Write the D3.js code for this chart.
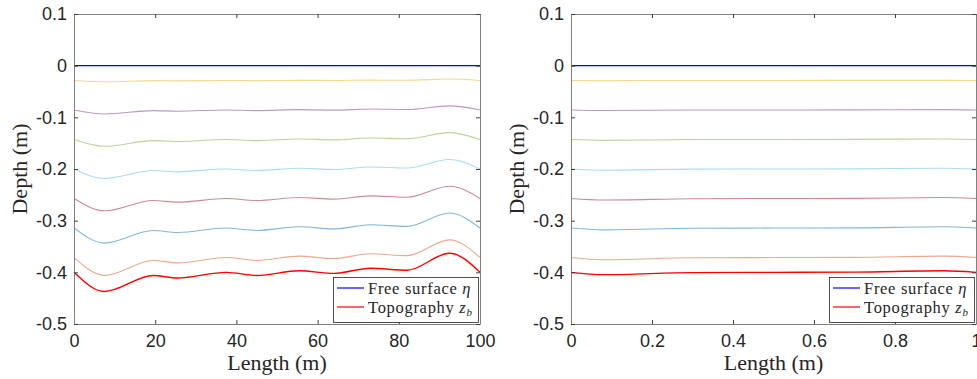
<!DOCTYPE html>
<html lang="en">
	<head>
		<meta charset="utf-8">
		<title>Layer depths</title>
		<script type="text/javascript" src="https://d3js.org/d3.v7.min.js"></script>
		<style type="text/css">
			body { margin: 0; background: #fff; }
			.tick text { font-family: "Liberation Sans", Arial, sans-serif; font-size: 18px; fill: #262626; }
			.lbl { font-family: "Liberation Serif", "Times New Roman", serif; font-size: 22px; fill: #262626; }
			.leg { font-family: "Liberation Serif", "Times New Roman", serif; font-size: 16.5px; letter-spacing: 0.7px; fill: #262626; }
		</style>
	</head>
	<body>
		<script type="text/javascript">

			// ---- data ----
			// left panel: 0..100 m
			var lengthL = [0, 7.5, 19.5, 25.5, 37.5, 45, 55.5, 64, 73, 82, 92.5, 100];
			var surfaceL = [0, 0, 0, 0, 0, 0, 0, 0, 0, 0, 0, 0];
			var topoL = [-0.400, -0.437, -0.406, -0.411, -0.400, -0.406, -0.397, -0.402, -0.392, -0.396, -0.363, -0.400];
			var layersL = [
				[-0.0286, -0.0312, -0.0290, -0.0294, -0.0286, -0.0290, -0.0284, -0.0287, -0.0280, -0.0283, -0.0259, -0.0286],
				[-0.0857, -0.0936, -0.0870, -0.0881, -0.0857, -0.0870, -0.0851, -0.0861, -0.0840, -0.0849, -0.0778, -0.0857],
				[-0.1429, -0.1561, -0.1450, -0.1468, -0.1429, -0.1450, -0.1418, -0.1436, -0.1400, -0.1414, -0.1296, -0.1429],
				[-0.2000, -0.2185, -0.2030, -0.2055, -0.2000, -0.2030, -0.1985, -0.2010, -0.1960, -0.1980, -0.1815, -0.2000],
				[-0.2571, -0.2809, -0.2610, -0.2642, -0.2571, -0.2610, -0.2552, -0.2584, -0.2520, -0.2546, -0.2334, -0.2571],
				[-0.3143, -0.3434, -0.3190, -0.3229, -0.3143, -0.3190, -0.3119, -0.3159, -0.3080, -0.3111, -0.2852, -0.3143],
				[-0.3714, -0.4058, -0.3770, -0.3817, -0.3714, -0.3770, -0.3687, -0.3733, -0.3640, -0.3677, -0.3371, -0.3714]
			];

			// right panel: 0..1 m
			var lengthR = [0, 0.08, 0.3, 0.5, 0.7, 0.92, 1];
			var surfaceR = [0, 0, 0, 0, 0, 0, 0];
			var topoR = [-0.400, -0.4045, -0.4005, -0.400, -0.3995, -0.397, -0.400];
			var layersR = [
				[-0.0286, -0.0289, -0.0286, -0.0286, -0.0285, -0.0284, -0.0286],
				[-0.0857, -0.0867, -0.0858, -0.0857, -0.0856, -0.0851, -0.0857],
				[-0.1429, -0.1445, -0.1430, -0.1429, -0.1427, -0.1418, -0.1429],
				[-0.2000, -0.2023, -0.2003, -0.2000, -0.1998, -0.1985, -0.2000],
				[-0.2571, -0.2600, -0.2575, -0.2571, -0.2568, -0.2552, -0.2571],
				[-0.3143, -0.3178, -0.3147, -0.3143, -0.3139, -0.3119, -0.3143],
				[-0.3714, -0.3756, -0.3719, -0.3714, -0.3710, -0.3687, -0.3714]
			];

			var ticksL = [0, 20, 40, 60, 80, 100];
			var ticksR = [0, 0.2, 0.4, 0.6, 0.8, 1];
			var ticksY = [-0.5, -0.4, -0.3, -0.2, -0.1, 0, 0.1];
			var legendNames = ["Free surface ", "Topography "];

			var layerColors = ["#EDB120", "#7E2F8E", "#77AC30", "#4DBEEE", "#A2142F", "#0072BD", "#D95319"];

			//Width and height
			var w = 977;
			var h = 379;

			var svg = d3.select("body")
						.append("svg")
						.attr("width", w)
						.attr("height", h);

			function fmt(d) {
				return d === 0 ? "0" : String(+d.toFixed(1));
			}

			function drawPanel(x0, x1, xs, surface, topo, layers, xticks, xmax) {
				var y0 = 14, y1 = 324;
				var x = d3.scaleLinear().domain([0, xmax]).range([x0, x1]);
				var y = d3.scaleLinear().domain([-0.5, 0.1]).range([y1, y0]);
				var g = svg.append("g");

				var line = function(vals) {
					return d3.line()
						.x(function(d, i) { return x(xs[i]); })
						.y(function(d) { return y(d); })
						.curve(d3.curveMonotoneX)(vals);
				};

				// layers
				layers.forEach(function(vals, k) {
					g.append("path")
						.attr("d", line(vals))
						.attr("fill", "none")
						.attr("stroke", layerColors[k])
						.attr("stroke-opacity", 0.5)
						.attr("stroke-width", 1.1);
				});
				g.append("path")
					.attr("d", line(surface))
					.attr("fill", "none")
					.attr("stroke", "#0000ff")
					.attr("stroke-width", 1.3);
				g.append("path")
					.attr("d", line(topo))
					.attr("fill", "none")
					.attr("stroke", "#ff0000")
					.attr("stroke-width", 1.4);

				// axes, ticks pointing inward on all four sides
				var ax = function(a) {
					a.selectAll(".domain").attr("stroke", "#808080");
					a.selectAll(".tick line").attr("stroke", "#404040");
				};
				g.append("g").attr("transform", "translate(0," + y1 + ")")
					.call(d3.axisBottom(x).tickValues(xticks).tickSize(-4).tickSizeOuter(0).tickPadding(10).tickFormat(fmt))
					.call(ax);
				g.append("g").attr("transform", "translate(0," + y0 + ")")
					.call(d3.axisTop(x).tickValues(xticks).tickSize(-4).tickSizeOuter(0).tickFormat(""))
					.call(ax);
				g.append("g").attr("transform", "translate(" + x0 + ",0)")
					.call(d3.axisLeft(y).tickValues(ticksY).tickSize(-4).tickSizeOuter(0).tickPadding(7).tickFormat(fmt))
					.call(ax);
				g.append("g").attr("transform", "translate(" + x1 + ",0)")
					.call(d3.axisRight(y).tickValues(ticksY).tickSize(-4).tickSizeOuter(0).tickFormat(""))
					.call(ax);
				g.selectAll(".tick text").attr("font-family", null).attr("font-size", null).attr("fill", null);

				// axis labels
				g.append("text")
					.attr("class", "lbl")
					.attr("x", (x0 + x1) / 2)
					.attr("y", 370)
					.attr("text-anchor", "middle")
					.text("Length (m)");
				g.append("text")
					.attr("class", "lbl")
					.attr("transform", "translate(" + (x0 - 47) + "," + ((y0 + y1) / 2) + ") rotate(-90)")
					.attr("text-anchor", "middle")
					.text("Depth (m)");

				// legend, bottom right inside the axes
				var lw = 145, lh = 45;
				var lx = x1 - 2 - lw, ly = y1 - 2 - lh;
				var lg = g.append("g").attr("transform", "translate(" + lx + "," + ly + ")");
				lg.append("rect")
					.attr("x", 0.5).attr("y", 0.5)
					.attr("width", lw).attr("height", lh)
					.attr("fill", "#fff")
					.attr("stroke", "#262626")
					.attr("stroke-width", 0.8);
				var legColors = ["#0000ff", "#ff0000"];
				legendNames.forEach(function(name, i) {
					var cy = 11 + i * 19;
					lg.append("line")
						.attr("x1", 4).attr("x2", 31)
						.attr("y1", cy).attr("y2", cy)
						.attr("stroke", legColors[i])
						.attr("stroke-width", 1.2);
					var t = lg.append("text")
						.attr("class", "leg")
						.attr("x", 35)
						.attr("y", cy + 5.5)
						.text(name);
					if (i === 0) {
						t.append("tspan").attr("font-style", "italic").text("η");
					} else {
						t.append("tspan").attr("font-style", "italic").text("z");
						t.append("tspan").attr("font-style", "italic").attr("font-size", "11px").attr("dy", 3).text("b");
					}
				});
			}

			drawPanel(74, 480, lengthL, surfaceL, topoL, layersL, ticksL, 100);
			drawPanel(571, 976, lengthR, surfaceR, topoR, layersR, ticksR, 1);

		</script>
	</body>
</html>
